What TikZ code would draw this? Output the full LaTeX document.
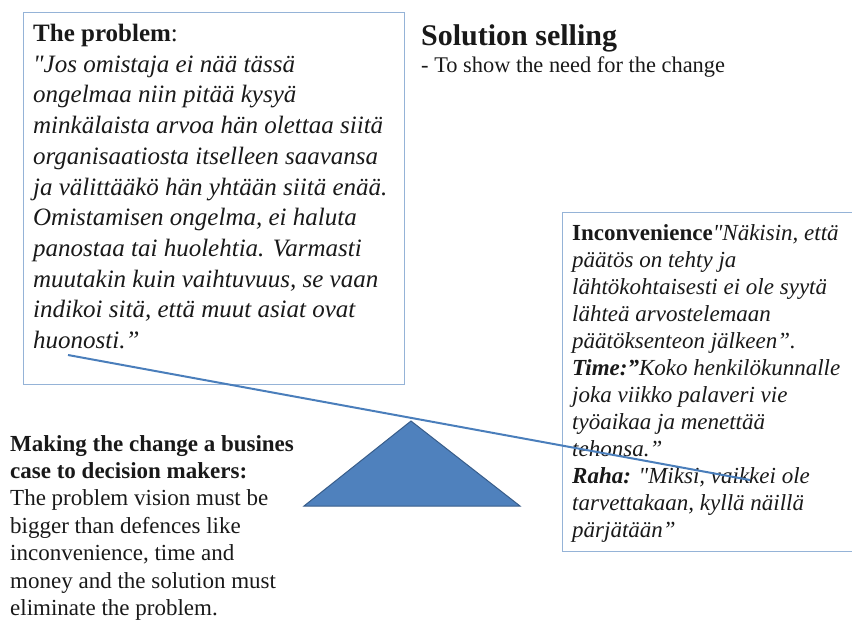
\documentclass[tikz,border=0pt]{standalone}
\usepackage{fontspec}
\setmainfont{Liberation Serif}[Ligatures=TeXOff]
\usepackage{xcolor}
\usepackage{tikz}
\usetikzlibrary{positioning}
\definecolor{boxblue}{RGB}{149,179,215}
\definecolor{leverblue}{RGB}{74,126,187}
\definecolor{fulcrumfill}{RGB}{79,129,189}
\definecolor{fulcrumedge}{RGB}{56,93,138}

\begin{document}
\begin{tikzpicture}[
  x=1pt, y=-1pt,
  panel/.style={draw=boxblue, line width=1.4pt, anchor=north west, inner sep=0pt},
  words/.style={anchor=north west, inner sep=0pt, align=left, text=black!90},
  bigquote/.style={words, font=\fontsize{25}{30.7}\selectfont\itshape},
  smallquote/.style={words, font=\fontsize{23}{27}\selectfont\itshape},
  plain/.style={words, font=\fontsize{23}{27.4}\selectfont},
  lever/.style={draw=leverblue, line width=2pt},
  fulcrum/.style={fill=fulcrumfill, draw=fulcrumedge, line width=1pt, line join=miter}
]
  \useasboundingbox (0,0) rectangle (852,619);
  \node[panel, minimum width=381pt, minimum height=372pt] (problembox) at (23,12) {};
  \node[panel, minimum width=292pt, minimum height=339pt] (defencebox) at (562,212) {};
  \node[bigquote] (problem) at (33,24) {{\upshape\bfseries The problem}{\upshape :}\\
    "Jos omistaja ei nää tässä\\
    ongelmaa niin pitää kysyä\\
    minkälaista arvoa hän olettaa siitä\\
    organisaatiosta itselleen saavansa\\
    ja välittääkö hän yhtään siitä enää.\\
    Omistamisen ongelma, ei haluta\\
    panostaa tai huolehtia. Varmasti\\
    muutakin kuin vaihtuvuus, se vaan\\
    indikoi sitä, että muut asiat ovat\\
    huonosti.”};
  \node[smallquote] (defences) at (572,224) {{\upshape\bfseries Inconvenience}"Näkisin, että\\
    päätös on tehty ja\\
    lähtökohtaisesti ei ole syytä\\
    lähteä arvostelemaan\\
    päätöksenteon jälkeen”.\\
    {\bfseries Time:”}Koko henkilökunnalle\\
    joka viikko palaveri vie\\
    työaikaa ja menettää\\
    tehonsa.”\\
    {\bfseries Raha:} "Miksi, vaikkei ole\\
    tarvettakaan, kyllä näillä\\
    pärjätään”};
  \node[plain] (businesscase) at (10,435) {\textbf{Making the change a busines}\\
    \textbf{case to decision makers:}\\
    The problem vision must be\\
    bigger than defences like\\
    inconvenience, time and\\
    money and the solution must\\
    eliminate the problem.};
  \node[anchor=base west, inner sep=0pt, text=black!90, font=\fontsize{30}{36}\selectfont\bfseries] (title) at (421,45) {Solution selling};
  \node[below=27pt of title.base west, anchor=base west, inner sep=0pt, text=black!90, font=\fontsize{22.4}{26}\selectfont] (subtitle) {- To show the need for the change};
  \coordinate (pivot) at (411,421);
  \coordinate (baseleft) at (304,506);
  \coordinate (baseright) at (520,506);
  \coordinate (leverleft) at (68,355);
  \coordinate (leverright) at (750,480);
  \filldraw[fulcrum] (baseleft) -- (pivot) -- (baseright) -- cycle;
  \draw[lever] (leverleft) -- (leverright);
\end{tikzpicture}
\end{document}
